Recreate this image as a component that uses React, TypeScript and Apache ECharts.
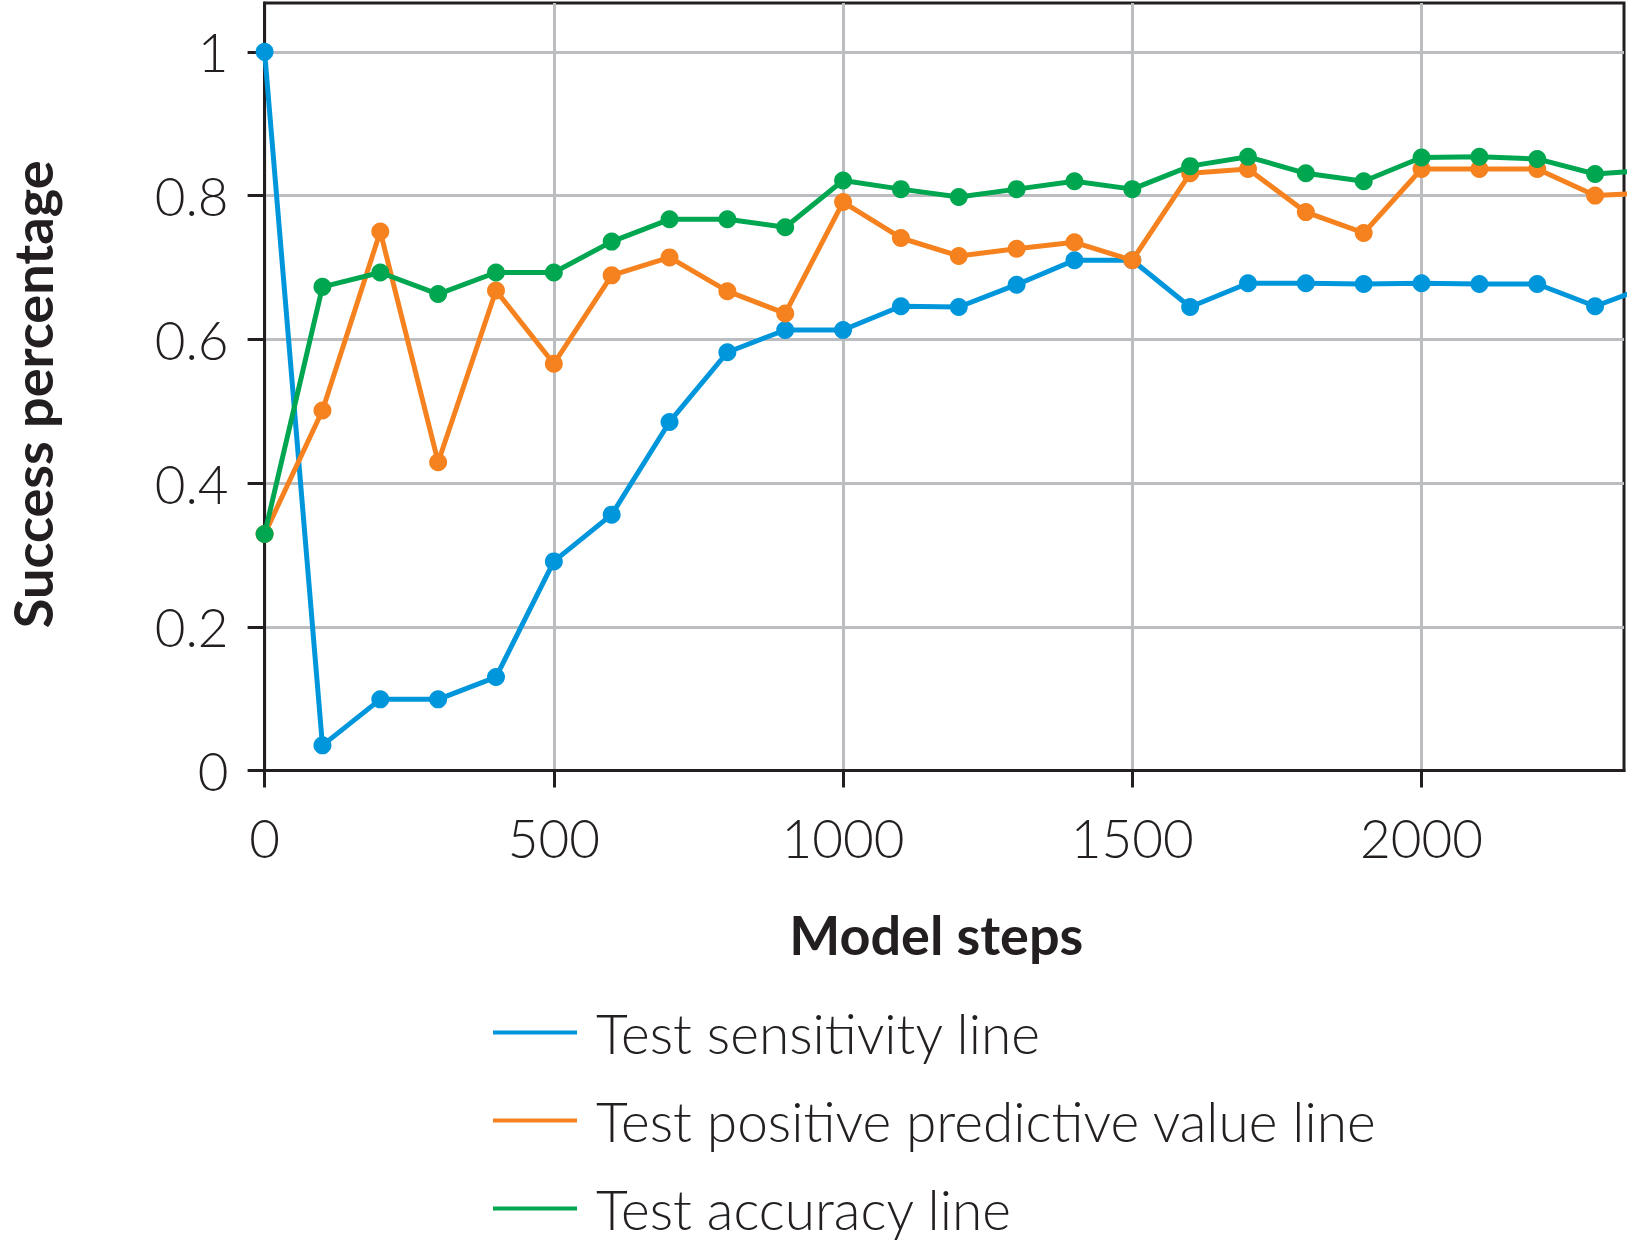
import React, { useEffect, useRef } from "react";
import * as echarts from "echarts";

const steps = [0, 100, 200, 300, 400, 500, 600, 700, 800, 900, 1000, 1100, 1200, 1300, 1400, 1500, 1600, 1700, 1800, 1900, 2000, 2100, 2200, 2300, 2400];
const sensitivity = [1.0, 0.035, 0.099, 0.099, 0.13, 0.291, 0.356, 0.485, 0.582, 0.613, 0.613, 0.646, 0.645, 0.676, 0.71, 0.71, 0.645, 0.678, 0.678, 0.677, 0.678, 0.677, 0.677, 0.646, 0.676];
const ppv = [0.329, 0.501, 0.75, 0.429, 0.668, 0.566, 0.689, 0.714, 0.667, 0.636, 0.791, 0.741, 0.716, 0.726, 0.735, 0.71, 0.831, 0.837, 0.777, 0.748, 0.837, 0.837, 0.837, 0.8, 0.804];
const accuracy = [0.329, 0.673, 0.693, 0.663, 0.693, 0.693, 0.736, 0.767, 0.767, 0.756, 0.821, 0.809, 0.798, 0.809, 0.82, 0.809, 0.841, 0.854, 0.831, 0.82, 0.853, 0.854, 0.851, 0.83, 0.836];
const xTicks = [0, 500, 1000, 1500, 2000];
const yTicks = [0, 0.2, 0.4, 0.6, 0.8, 1];
const seriesNames = ["Test sensitivity line", "Test positive predictive value line", "Test accuracy line"];
const seriesColors = ["#0096db", "#f5821f", "#00a650"];

const FONT = "Lato, 'Open Sans', sans-serif";
const INK = "#231f20";
const GRID = "#bcbdc0";

export default function App() {
  const ref = useRef<HTMLDivElement>(null);
  useEffect(() => {
    if (!ref.current) return;
    const chart = echarts.init(ref.current, null, { renderer: "svg" });
    const values = [sensitivity, ppv, accuracy];
    chart.setOption({
      animation: false,
      backgroundColor: "#ffffff",
      textStyle: { fontFamily: FONT, color: INK },
      grid: {
        left: 264.6,
        top: 3,
        right: 3,
        height: 767.5,
        show: true,
        borderColor: INK,
        borderWidth: 3,
        backgroundColor: "transparent",
        containLabel: false,
        outerBoundsMode: "none",
      },
      xAxis: {
        type: "value",
        min: 0,
        max: 2350,
        interval: 500,
        name: "Model steps",
        nameLocation: "middle",
        nameGap: 137,
        nameTextStyle: { fontFamily: FONT, fontSize: 54, fontWeight: "bold", color: INK, padding: [0, 16, 0, 0] },
        axisLine: { show: true, onZero: false, lineStyle: { color: INK, width: 3 } },
        axisTick: { show: true, inside: false, length: 17, lineStyle: { color: INK, width: 3 }, customValues: xTicks },
        axisLabel: {
          margin: 40,
          fontSize: 53,
          fontWeight: 300,
          color: INK,
          fontFamily: FONT,
          customValues: xTicks,
          formatter: (v: number) => String(v),
        },
        splitLine: { show: true, lineStyle: { color: GRID, width: 3 } },
      },
      yAxis: {
        type: "value",
        min: 0,
        max: 1.068,
        interval: 0.2,
        name: "Success percentage",
        nameLocation: "middle",
        nameGap: 207,
        nameTextStyle: {
          fontFamily: FONT,
          fontSize: 54,
          fontWeight: "bold",
          color: INK,
          lineHeight: 50,
          padding: [0, 15, 0, 0],
        },
        axisLine: { show: true, lineStyle: { color: INK, width: 3 } },
        axisTick: { show: true, inside: false, length: 17, lineStyle: { color: INK, width: 3 }, customValues: yTicks },
        axisLabel: {
          margin: 36,
          fontSize: 53,
          fontWeight: 300,
          color: INK,
          fontFamily: FONT,
          customValues: yTicks,
          formatter: (v: number) => String(Math.round(v * 10) / 10),
        },
        splitLine: { show: true, lineStyle: { color: GRID, width: 3 } },
      },
      legend: seriesNames.map((name, i) => ({
        show: true,
        orient: "vertical",
        left: 488,
        top: 1000 + i * 88,
        icon: "rect",
        itemWidth: 84,
        itemHeight: 4,
        data: [name],
        textStyle: { fontFamily: FONT, fontSize: 55, fontWeight: 300, color: INK, lineHeight: 54, padding: [0, 0, 0, 14] },
      })),
      series: seriesNames.map((name, i) => ({
        name,
        type: "line",
        data: steps.map((s, j) => [s, values[i][j]]),
        symbol: "circle",
        symbolSize: 18,
        showAllSymbol: true,
        clip: true,
        itemStyle: { color: seriesColors[i] },
        lineStyle: { color: seriesColors[i], width: 5 },
        z: 2 + i,
      })),
    });
    return () => chart.dispose();
  }, []);
  return (
    <div
      ref={ref}
      style={{ position: "fixed", left: 0, top: 0, width: 1627, height: 1243, background: "#fff" }}
    />
  );
}
